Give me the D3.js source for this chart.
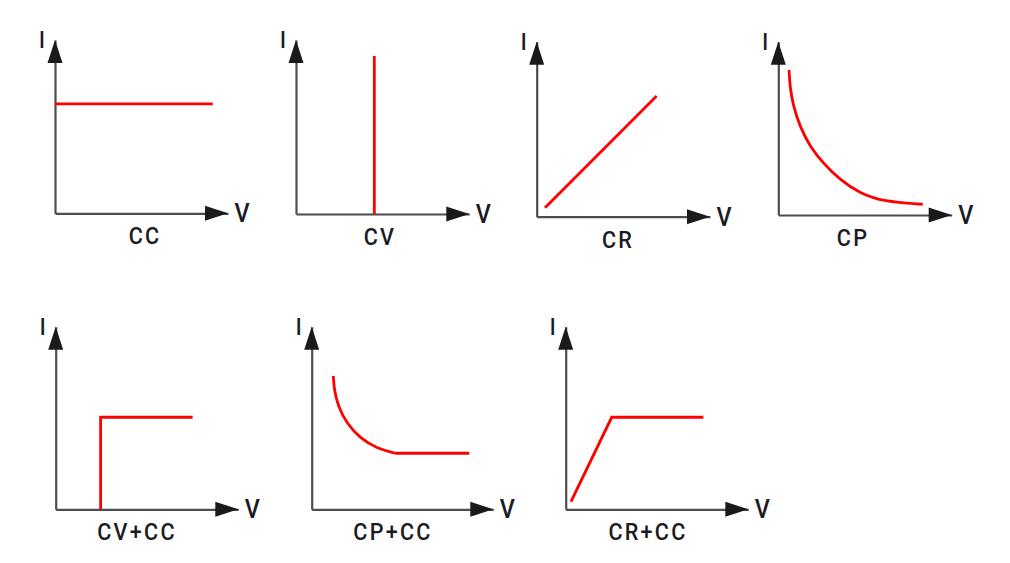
<!DOCTYPE html>
<html>
<head>
<meta charset="utf-8">
<script src="https://cdn.jsdelivr.net/npm/d3@7"></script>
<style>
  html, body { margin: 0; padding: 0; background: #ffffff; }
  svg { display: block; }
  text { font-family: "Roboto", "Liberation Sans", sans-serif; font-weight: 500; fill: #1b1b24; }
</style>
</head>
<body>
<svg id="chart" width="1010" height="563"></svg>
<script>
// ---- Data (V, I in normalized units 0..10 per panel) ----
const modeNames = ["CC", "CV", "CR", "CP", "CV+CC", "CP+CC", "CR+CC"];
const axisLabelX = "V";
const axisLabelY = "I";

const ccV = [0, 9.12];
const ccI = [6.31, 6.31];

const cvV = [4.52, 4.52];
const cvI = [0, 9.08];

const crV = [0.48, 6.92];
const crI = [0.51, 6.90];

const cpV = [0.62, 0.67, 0.87, 1.25, 1.83, 2.60, 3.56, 4.71, 6.06, 8.33];
const cpI = [8.37, 7.40, 6.25, 5.10, 3.94, 2.98, 2.02, 1.25, 0.77, 0.62];

const cvccV = [2.46, 2.46, 7.50];
const cvccI = [0, 5.04, 5.04];

const cpccCurveV = [1.19, 1.24, 1.46, 1.93, 2.66, 3.58, 4.59];
const cpccCurveI = [7.30, 6.53, 5.62, 4.71, 3.89, 3.34, 3.07];
const cpccFlatV = [4.59, 8.68];
const cpccFlatI = [3.07, 3.07];

const crccV = [0.29, 2.52, 7.54];
const crccI = [0.42, 5.04, 5.04];

// ---- Layout (pixel boxes for each panel) ----
const layout = [
  { ox: 55,    oy: 213.3, xTip: 228,   yTip: 40,    labelX: 145 },
  { ox: 296,   oy: 214,   xTip: 469.3, yTip: 40,    labelX: 380 },
  { ox: 536.7, oy: 216.7, xTip: 710,   yTip: 41.7,  labelX: 618 },
  { ox: 778.3, oy: 215,   xTip: 951.7, yTip: 41.7,  labelX: 853 },
  { ox: 55.7,  oy: 509.3, xTip: 238.3, yTip: 326.7, labelX: 137 },
  { ox: 311.7, oy: 509.3, xTip: 493.3, yTip: 326.7, labelX: 393 },
  { ox: 565.7, oy: 509.3, xTip: 748.3, yTip: 326.7, labelX: 648 }
];

const zip = (a, b) => a.map((v, i) => [v, b[i]]);
const series = [
  [{ pts: zip(ccV, ccI), curve: d3.curveLinear }],
  [{ pts: zip(cvV, cvI), curve: d3.curveLinear }],
  [{ pts: zip(crV, crI), curve: d3.curveLinear }],
  [{ pts: zip(cpV, cpI), curve: d3.curveBasis }],
  [{ pts: zip(cvccV, cvccI), curve: d3.curveLinear }],
  [{ pts: zip(cpccCurveV, cpccCurveI), curve: d3.curveBasis },
   { pts: zip(cpccFlatV, cpccFlatI), curve: d3.curveLinear }],
  [{ pts: zip(crccV, crccI), curve: d3.curveLinear }]
];

const svg = d3.select("#chart");
const AXIS_COLOR = "#4d4d4d";
const HEAD_COLOR = "#1a1a1a";
const RED = "#ff0000";
const headLen = 23, headHalf = 7.5;

function addText(g, x, y, size, str, spacing) {
  g.append("text")
    .attr("transform", `translate(${x},${y}) scale(0.9,1)`)
    .attr("text-anchor", "middle")
    .attr("font-size", size)
    .attr("letter-spacing", spacing || 0)
    .text(str);
}

layout.forEach((L, i) => {
  const x = d3.scaleLinear().domain([0, 10]).range([L.ox, L.xTip]);
  const y = d3.scaleLinear().domain([0, 10]).range([L.oy, L.yTip]);
  const g = svg.append("g");

  // axes (no ticks) via d3 axis generators
  const xAxis = d3.axisBottom(x).tickValues([]).tickSizeOuter(0);
  const yAxis = d3.axisLeft(y).tickValues([]).tickSizeOuter(0);
  g.append("g").attr("transform", `translate(0,${L.oy})`).call(xAxis)
    .select(".domain").attr("stroke", AXIS_COLOR).attr("stroke-width", 2.2);
  g.append("g").attr("transform", `translate(${L.ox},0)`).call(yAxis)
    .select(".domain").attr("stroke", AXIS_COLOR).attr("stroke-width", 2.2);

  // arrowheads
  const xt = x(10), yt = y(10);
  g.append("path")
    .attr("d", `M${xt},${L.oy} L${xt - headLen},${L.oy - headHalf} L${xt - headLen},${L.oy + headHalf} Z`)
    .attr("fill", HEAD_COLOR);
  g.append("path")
    .attr("d", `M${L.ox},${yt} L${L.ox - headHalf},${yt + headLen} L${L.ox + headHalf},${yt + headLen} Z`)
    .attr("fill", HEAD_COLOR);

  // curves
  series[i].forEach(s => {
    const line = d3.line().x(d => x(d[0])).y(d => y(d[1])).curve(s.curve);
    g.append("path").attr("d", line(s.pts))
      .attr("fill", "none").attr("stroke", RED).attr("stroke-width", 2.8)
      .attr("stroke-linejoin", "miter");
  });

  // axis letters
  addText(g, L.ox - 13, yt + 8, 23, axisLabelY);
  addText(g, xt + 14, L.oy + 9, 26, axisLabelX);
  // mode label
  addText(g, L.labelX, L.oy + 31, 24, modeNames[i], 2.5);
});
</script>
</body>
</html>
